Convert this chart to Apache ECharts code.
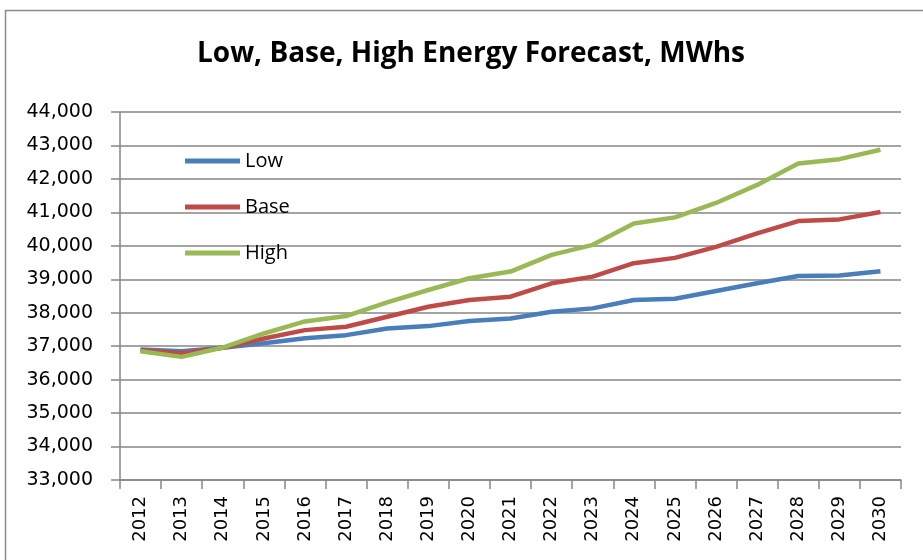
<!DOCTYPE html>
<html>
<head>
<meta charset="utf-8">
<script src="https://cdn.jsdelivr.net/npm/echarts@6/dist/echarts.min.js"></script>
<style>
  html, body { margin: 0; padding: 0; background: #ffffff; }
  #chart { width: 923px; height: 560px; }
</style>
</head>
<body>
<div id="chart"></div>
<script>
// Forecast years
const years = ['2012','2013','2014','2015','2016','2017','2018','2019','2020','2021',
               '2022','2023','2024','2025','2026','2027','2028','2029','2030'];

// Energy forecast scenarios, MWh
const lowValues  = [36900, 36850, 36950, 37090, 37240, 37330, 37530, 37600, 37750, 37830,
                    38030, 38130, 38380, 38420, 38650, 38880, 39100, 39110, 39240];
const baseValues = [36880, 36790, 36950, 37230, 37480, 37580, 37880, 38180, 38380, 38480,
                    38880, 39080, 39480, 39640, 39970, 40370, 40740, 40790, 41010];
const highValues = [36850, 36680, 36960, 37380, 37740, 37900, 38310, 38680, 39030, 39230,
                    39730, 40030, 40670, 40850, 41280, 41820, 42460, 42590, 42870];

const seriesNames = ['Low', 'Base', 'High'];
const seriesColors = ['#4a7ebb', '#be4b48', '#98b954'];

const chart = echarts.init(document.getElementById('chart'), null, { renderer: 'canvas' });

const makeLine = (name, data, color) => ({
  name: name,
  type: 'line',
  data: data,
  symbol: 'none',
  smooth: false,
  lineStyle: { color: color, width: 4.5 },
  itemStyle: { color: color }
});

chart.setOption({
  animation: false,
  backgroundColor: '#ffffff',
  graphic: [{
    type: 'polyline',
    shape: { points: [[5.5, 560], [5.5, 10.5], [923, 10.5]] },
    style: { stroke: '#8c8c8c', lineWidth: 1.5, fill: null },
    silent: true
  }],
  title: {
    text: 'Low, Base, High Energy Forecast, MWhs',
    left: 192,
    top: 35,
    textStyle: {
      fontFamily: 'Open Sans',
      fontSize: 28,
      fontWeight: 'bold',
      color: '#000000'
    }
  },
  legend: {
    orient: 'vertical',
    left: 180,
    top: 144,
    itemWidth: 55,
    itemHeight: 5,
    itemGap: 22,
    icon: 'rect',
    data: seriesNames,
    textStyle: {
      fontFamily: 'Open Sans',
      fontSize: 20,
      lineHeight: 24,
      color: '#000000',
      padding: [0, 0, 0, 0]
    }
  },
  grid: {
    left: 120,
    right: 22,
    top: 112,
    bottom: 80,
    containLabel: false
  },
  xAxis: {
    type: 'category',
    data: years,
    boundaryGap: true,
    axisLine: { show: true, lineStyle: { color: '#868686', width: 1.5 } },
    axisTick: { show: true, alignWithLabel: false, length: 9, lineStyle: { color: '#868686', width: 1.5 } },
    axisLabel: {
      rotate: 90,
      interval: 0,
      margin: 16,
      fontFamily: 'DejaVu Sans',
      fontSize: 18,
      color: '#000000'
    },
    splitLine: { show: false }
  },
  yAxis: {
    type: 'value',
    min: 33000,
    max: 44000,
    interval: 1000,
    axisLine: { show: true, lineStyle: { color: '#868686', width: 1.5 } },
    axisTick: { show: true, length: 9, lineStyle: { color: '#868686', width: 1.5 } },
    axisLabel: {
      margin: 27,
      fontFamily: 'DejaVu Sans',
      fontSize: 19,
      color: '#000000',
      formatter: v => v.toLocaleString('en-US')
    },
    splitLine: { show: true, lineStyle: { color: '#868686', width: 1.5 } }
  },
  series: [
    makeLine(seriesNames[0], lowValues, seriesColors[0]),
    makeLine(seriesNames[1], baseValues, seriesColors[1]),
    makeLine(seriesNames[2], highValues, seriesColors[2])
  ]
});
</script>
</body>
</html>
